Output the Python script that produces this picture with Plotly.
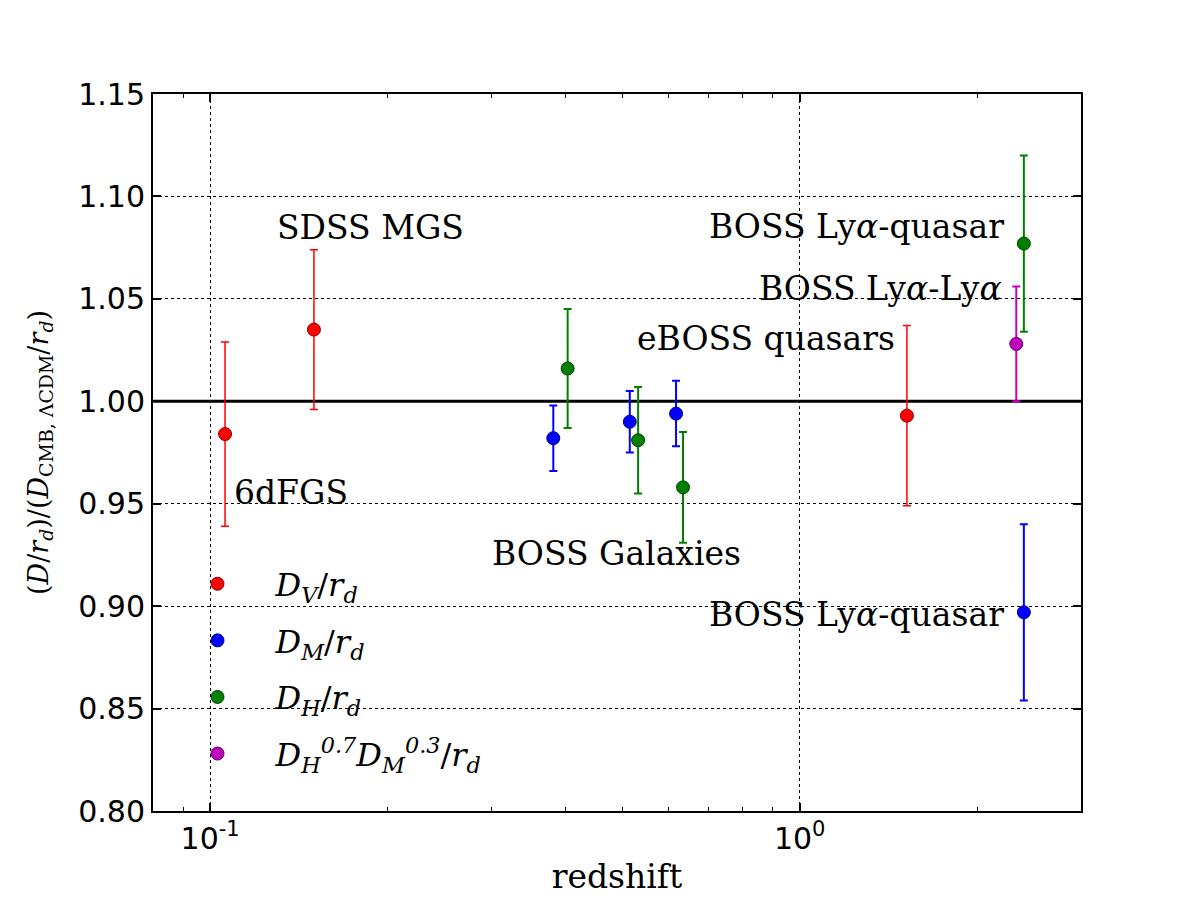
import math
import plotly.graph_objects as go

# ---- data ----
dv_z = [0.106, 0.150, 1.52]
dv_val = [0.984, 1.035, 0.993]
dv_err_plus = [0.045, 0.039, 0.044]
dv_err_minus = [0.045, 0.039, 0.044]

dm_z = [0.382, 0.515, 0.617, 2.40]
dm_val = [0.982, 0.990, 0.994, 0.897]
dm_err = [0.016, 0.015, 0.016, 0.043]

dh_z = [0.404, 0.532, 0.634, 2.40]
dh_val = [1.016, 0.981, 0.958, 1.077]
dh_err = [0.029, 0.026, 0.027, 0.043]

dhm_z = [2.33]
dhm_val = [1.028]
dhm_err = [0.028]

ref_value = 1.0

y_ticks = [0.80, 0.85, 0.90, 0.95, 1.00, 1.05, 1.10, 1.15]
x_tickvals = [0.1, 1.0]
x_ticktext = ["10<sup>-1</sup>", "10<sup>0</sup>"]

label_texts = ["SDSS MGS", "6dFGS", "BOSS Galaxies", "eBOSS quasars",
               "BOSS Ly<i>α</i>-quasar", "BOSS Ly<i>α</i>-Ly<i>α</i>", "BOSS Ly<i>α</i>-quasar"]
label_z = [0.1873, 0.1372, 0.488, 0.876, 1.250, 1.372, 1.250]
label_y = [1.0846, 0.9557, 0.9255, 1.0306, 1.0851, 1.0553, 0.8957]

SERIF = "DejaVu Serif"
SANS = "DejaVu Sans"

fig = go.Figure()

def add_series(z, val, ep, em, color, edge, name, group, barw):
    fig.add_trace(go.Scatter(
        x=z, y=val, mode="markers", name=name, legendgroup=group,
        marker=dict(size=13, color=color, line=dict(color=edge, width=1)),
        error_y=dict(type="data", array=ep, arrayminus=em, symmetric=False,
                     color=color, thickness=barw, width=4),
    ))

add_series(dv_z, dv_val, dv_err_plus, dv_err_minus, "#ff0000", "#800000",
           "<i>D<sub>V</sub></i>/<i>r<sub>d</sub></i>", "g1", 1.5)
add_series(dm_z, dm_val, dm_err, dm_err, "#0000ff", "#000080",
           "<i>D<sub>M</sub></i>/<i>r<sub>d</sub></i>", "g2", 2)
add_series(dh_z, dh_val, dh_err, dh_err, "#008000", "#004000",
           "<i>D<sub>H</sub></i>/<i>r<sub>d</sub></i>", "g3", 2)
add_series(dhm_z, dhm_val, dhm_err, dhm_err, "#bf00bf", "#600060",
           "<i>D<sub>H</sub><sup>0.7</sup>D<sub>M</sub><sup>0.3</sup></i>/<i>r<sub>d</sub></i>", "g4", 2)

fig.add_shape(type="line", xref="paper", x0=0, x1=1, yref="y", y0=ref_value, y1=ref_value,
              line=dict(color="black", width=3), layer="between")

for text, xv, yv in zip(label_texts, label_z, label_y):
    fig.add_annotation(x=math.log10(xv), y=yv, xref="x", yref="y", text=text,
                       showarrow=False, xanchor="center", yanchor="middle",
                       font=dict(family=SERIF, size=33, color="black"))

fig.update_layout(
    width=1200, height=905,
    paper_bgcolor="white", plot_bgcolor="white",
    margin=dict(l=145, r=127, t=86, b=102),
    showlegend=True,
    legend=dict(x=0.007, y=0.355, xanchor="left", yanchor="top",
                bgcolor="rgba(0,0,0,0)", borderwidth=0,
                font=dict(family=SERIF, size=32, color="black"),
                tracegroupgap=12, itemwidth=106, itemsizing="trace"),
    xaxis=dict(
        type="log", range=[math.log10(0.08), math.log10(3.0)],
        tickvals=x_tickvals, ticktext=x_ticktext,
        ticks="inside", ticklen=8, tickwidth=1.5, tickcolor="black",
        showline=True, linecolor="black", linewidth=2, mirror="ticks",
        showgrid=True, gridcolor="black", griddash="dot", gridwidth=1,
        zeroline=False,
        tickfont=dict(family=SANS, size=30, color="black"),
        minor=dict(ticks="inside", ticklen=4, tickwidth=1, tickcolor="black",
                   dtick="D1", showgrid=False),
        title=dict(text="redshift", font=dict(family=SERIF, size=33, color="black"), standoff=10),
    ),
    yaxis=dict(
        range=[0.80, 1.15], tickvals=y_ticks, tickformat=".2f",
        ticks="inside", ticklen=8, tickwidth=1.5, tickcolor="black",
        showline=True, linecolor="black", linewidth=2, mirror="ticks",
        showgrid=True, gridcolor="black", griddash="dot", gridwidth=1,
        zeroline=False,
        tickfont=dict(family=SANS, size=30, color="black"),
        title=dict(text="(<i>D</i>/<i>r<sub>d</sub></i>)/(<i>D</i><sub>CMB, ΛCDM</sub>/<i>r<sub>d</sub></i>)",
                   font=dict(family=SERIF, size=27, color="black"), standoff=22),
    ),
)

fig.write_html("out.html")
